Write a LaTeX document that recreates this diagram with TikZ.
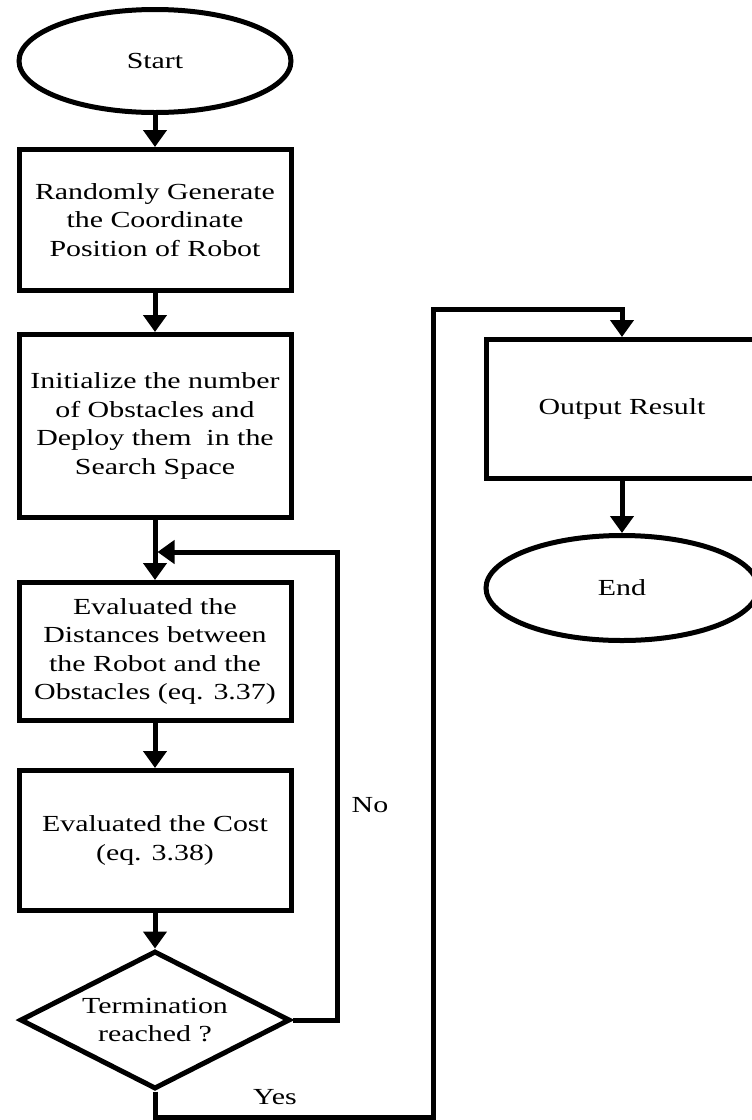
\documentclass[tikz,border=0pt]{standalone}
\usepackage{fontspec}
\setmainfont{Liberation Serif}[FakeStretch=1.3]
\usetikzlibrary{shapes.geometric,arrows.meta}
\begin{document}
\begin{tikzpicture}[x=1pt,y=-1pt,
  every node/.style={font=\fontsize{23}{28.5}\selectfont, align=center, inner sep=0pt},
  term/.style={draw, line width=5pt, ellipse, fill=white, minimum width=272pt, minimum height=103pt},
  proc/.style={draw, line width=5pt, rectangle, fill=white, minimum width=272pt},
  decis/.style={draw, line width=5pt, diamond, aspect=1.92, fill=white, minimum width=270pt, minimum height=138pt},
  conn/.style={line width=5pt, -{Triangle[width=23pt,length=17pt]}},
  lbl/.style={}
]
\useasboundingbox (0,0) rectangle (752,1120);

\node[term] (start) at (155,61) {Start};
\node[proc, minimum height=141pt] (gen) at (155,220) {Randomly Generate\\the Coordinate\\Position of Robot};
\node[proc, minimum height=183pt] (init) at (155,426) {Initialize the number\\of Obstacles and\\Deploy them\ \ in the\\Search Space};
\node[proc, minimum height=138pt] (dist) at (155,651.5) {Evaluated the\\Distances between\\the Robot and the\\Obstacles (eq. 3.37)};
\node[proc, minimum height=140pt] (cost) at (155,840.5) {Evaluated the Cost\\(eq. 3.38)};
\node[decis] (dec) at (155,1020) {Termination\\reached ?};
\node[proc, minimum height=139pt] (out) at (622,409) {Output Result};
\node[term, minimum height=105pt] (end) at (622,588) {End};

\coordinate (noTop) at (337,552);
\coordinate (fbIn) at (157.5,552);
\coordinate (yesB) at (155,1117);
\coordinate (yesR) at (433,1117);
\coordinate (yesT) at (433,309);

\draw[conn] (start) -- (gen);
\draw[conn] (gen) -- (init);
\draw[conn] (init.south) -- (dist.north);
\draw[conn] (dist) -- (cost);
\draw[conn] (cost.south) -- (dec.north);
\draw[conn] (dec.east) -| (noTop) -- (fbIn);
\draw[conn] (dec.south) -- (yesB) -- (yesR) -- (yesT) -| (out.north);
\draw[conn] (out) -- (end);

\node[lbl] (no) at (370,805) {No};
\node[lbl] (yes) at (275,1097) {Yes};
\end{tikzpicture}
\end{document}
